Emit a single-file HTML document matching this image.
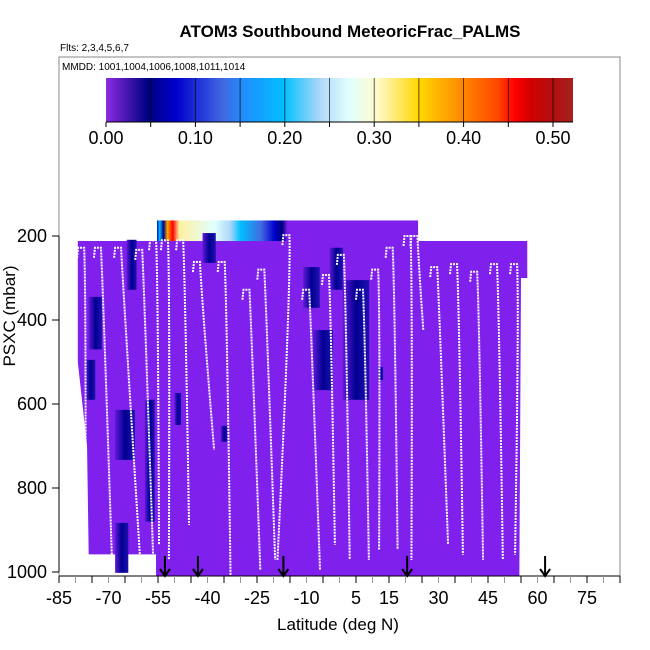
<!DOCTYPE html>
<html><head><meta charset="utf-8"><style>
body{margin:0;background:#fff}
svg{display:block;font-family:"Liberation Sans",sans-serif}
</style></head><body>
<svg id="chart" width="650" height="650" viewBox="0 0 650 650">
<defs>
<linearGradient id="cbar" x1="0" x2="1" y1="0" y2="0">
<stop offset="0" stop-color="#8a2be2"/><stop offset="0.09" stop-color="#000080"/>
<stop offset="0.15" stop-color="#0000cd"/><stop offset="0.25" stop-color="#4169e1"/>
<stop offset="0.30" stop-color="#1e90ff"/><stop offset="0.38" stop-color="#00bfff"/>
<stop offset="0.46" stop-color="#b0d8f8"/><stop offset="0.52" stop-color="#e0ffff"/>
<stop offset="0.58" stop-color="#fffacd"/><stop offset="0.67" stop-color="#ffd700"/>
<stop offset="0.73" stop-color="#ffa500"/><stop offset="0.84" stop-color="#ff4500"/>
<stop offset="0.875" stop-color="#ff0000"/><stop offset="0.91" stop-color="#d00000"/>
<stop offset="0.96" stop-color="#b01010"/><stop offset="1" stop-color="#a52020"/>
</linearGradient>
<linearGradient id="band" x1="0" x2="1" y1="0" y2="0">
<stop offset="0" stop-color="#0000cd"/><stop offset="0.01" stop-color="#00bfff"/>
<stop offset="0.025" stop-color="#000080"/><stop offset="0.04" stop-color="#ffa500"/>
<stop offset="0.06" stop-color="#ff0000"/><stop offset="0.085" stop-color="#fff0a0"/>
<stop offset="0.22" stop-color="#e0ffff"/><stop offset="0.28" stop-color="#b0d8f8"/>
<stop offset="0.32" stop-color="#00bfff"/><stop offset="0.4" stop-color="#4169e1"/>
<stop offset="0.45" stop-color="#0000cd"/><stop offset="0.48" stop-color="#000080"/>
<stop offset="0.5" stop-color="#8020ec"/><stop offset="1" stop-color="#8020ec"/>
</linearGradient>
<linearGradient id="patch" x1="0" x2="1" y1="0" y2="0">
<stop offset="0" stop-color="#6018d8"/><stop offset="0.5" stop-color="#000090"/><stop offset="1" stop-color="#2010b0"/>
</linearGradient>
</defs>
<text x="350" y="37" text-anchor="middle" font-size="17" font-weight="bold">ATOM3 Southbound MeteoricFrac_PALMS</text>
<text x="60" y="51" font-size="10">Flts: 2,3,4,5,6,7</text>
<g id="plot"></g>
<rect x="59" y="57" width="561" height="519" fill="none" stroke="#888" stroke-width="1"/>
<text x="62" y="70" font-size="10">MMDD: 1001,1004,1006,1008,1011,1014</text>
<g id="colorbar"></g>
<g id="axes"></g>
<text x="338" y="630" text-anchor="middle" font-size="17">Latitude (deg N)</text>
<text transform="translate(15,316) rotate(-90)" text-anchor="middle" font-size="17">PSXC (mbar)</text>
</svg>
<script>
const xTicks=[-85,-70,-55,-40,-25,-10,5,15,30,45,60,75];
const yTicks=[200,400,600,800,1000];
const cbTicks=[0,0.1,0.2,0.3,0.4,0.5];
const arrowLats=[-52.9,-42.9,-17,20.5,62.3];
const profLatTop=[-78.6,-73.5,-67.4,-61,-56.8,-53.2,-48.6,-43.5,-36,-28.5,-24,-16.4,-10.4,-4.4,0.1,5.9,10.5,14.9,20.3,22.4,28.4,34.4,40.5,46.5,52.6];
const profLatBot=[-77,-69,-60.5,-56.5,-54.7,-51.7,-45.6,-38,-33,-24,-19.5,-18.8,-5.9,-1.4,3.1,8.9,12,17.6,21.8,25.4,32.9,37.4,43.5,49.5,53.2];
const profPTop=[228,228,228,233,210,210,210,262,262,328,280,198,328,293,245,328,280,228,200,200,274,267,285,267,267];
const profPBot=[959,959,959,959,935,971,888,709,1019,995,971,971,995,935,971,971,947,947,971,424,935,959,971,971,959];
const patchLat=[-64.5,-68,-68,-41.5,-3,-11,-8,11.7,1,-77,-50,-36,-76,-59];
const patchP1=[209,883,614,193,228,274,424,512,305,495,574,652,345,590];
const patchP2=[328,1002,733,264,328,371,567,543,590,590,650,690,470,880];
const patchW=[3,4,6,4,4,5,6,1.5,8,3,2,2,4,3];
const NS="http://www.w3.org/2000/svg";
const X=l=>59+(l+85)*3.3, Y=p=>236+(p-200)*0.42;
function mk(tag,attrs,parent){const e=document.createElementNS(NS,tag);for(const k in attrs)e.setAttribute(k,attrs[k]);parent.appendChild(e);return e;}
const plot=document.getElementById('plot');
const bg=mk('path',{d:`M${X(-79.3)},${Y(212)} L${X(-55.3)},${Y(212)} L${X(-55.3)},${Y(163)} L${X(23.8)},${Y(163)} L${X(23.8)},${Y(212)} L${X(56.9)},${Y(212)} L${X(56.9)},${Y(300)} L${X(55)},${Y(300)} L${X(54.5)},${Y(1010)} L${X(-55.6)},${Y(1010)} L${X(-55.6)},${Y(958)} L${X(-76)},${Y(958)} L${X(-76.5)},${Y(700)} L${X(-79.3)},${Y(500)} Z`,fill:'#8020ec'},plot);


const band=mk('rect',{x:X(-55.3),y:Y(163),width:X(23.8)-X(-55.3),height:Y(212)-Y(163),fill:'url(#band)'},plot);


patchLat.forEach((l,i)=>{
  const r=mk('rect',{x:X(l),y:Y(patchP1[i]),width:patchW[i]*3.3,height:Y(patchP2[i])-Y(patchP1[i]),fill:'url(#patch)'},plot);
  
  
});
profLatTop.forEach((l,i)=>{
  const x1=X(l),x2=X(profLatBot[i]),y1=Y(profPTop[i]),y2=Y(profPBot[i]);
  const p=mk('path',{d:`M${x1-3},${y1+10} L${x1-2},${y1} L${x1+4},${y1} Q${x1+6},${y1+40} ${x2},${y2}`,fill:'none',stroke:'#fff','stroke-width':2,'stroke-dasharray':'2 1'},plot);
  
  
});
arrowLats.forEach(l=>{
  const g=mk('g',{stroke:'#000','stroke-width':2,fill:'none'},plot);
  
  
  mk('line',{x1:X(l),y1:556,x2:X(l),y2:576},g);
  mk('path',{d:`M${X(l)-5},${569} L${X(l)},${576} L${X(l)+5},${569}`},g);
});
const cb=document.getElementById('colorbar');
const C=v=>106+v*(553-106)/0.5;
const cr=mk('rect',{x:106,y:78,width:467,height:44,fill:'url(#cbar)'},cb);


for(let v=0.05;v<0.51;v+=0.05)mk('line',{x1:C(v),y1:78,x2:C(v),y2:122,stroke:'#000','stroke-width':0.8,'stroke-opacity':0.8},cb);
mk('line',{x1:106,y1:122,x2:573,y2:122,stroke:'#000'},cb);
for(let v=0;v<0.51;v+=0.05)mk('line',{x1:C(v),y1:122,x2:C(v),y2:127,stroke:'#000'},cb);
cbTicks.forEach(v=>{const t=mk('text',{x:C(v),y:144,'text-anchor':'middle','font-size':18},cb);t.textContent=v.toFixed(2);

});
const ax=document.getElementById('axes');
mk('line',{x1:59,y1:576,x2:620,y2:576,stroke:'#000'},ax);
for(let l=-85;l<=85;l+=5)mk('line',{x1:X(l),y1:576,x2:X(l),y2:583,stroke:(l%10===0)?'#999':'#000'},ax);
xTicks.forEach(l=>{const t=mk('text',{x:X(l),y:604,'text-anchor':'middle','font-size':18},ax);t.textContent=l;

});
mk('line',{x1:59,y1:Y(200),x2:59,y2:Y(1000),stroke:'#000'},ax);
yTicks.forEach(p=>{mk('line',{x1:52,y1:Y(p),x2:59,y2:Y(p),stroke:'#000'},ax);
const t=mk('text',{x:47,y:Y(p)+6,'text-anchor':'end','font-size':18},ax);t.textContent=p;

});
</script>
</body></html>
